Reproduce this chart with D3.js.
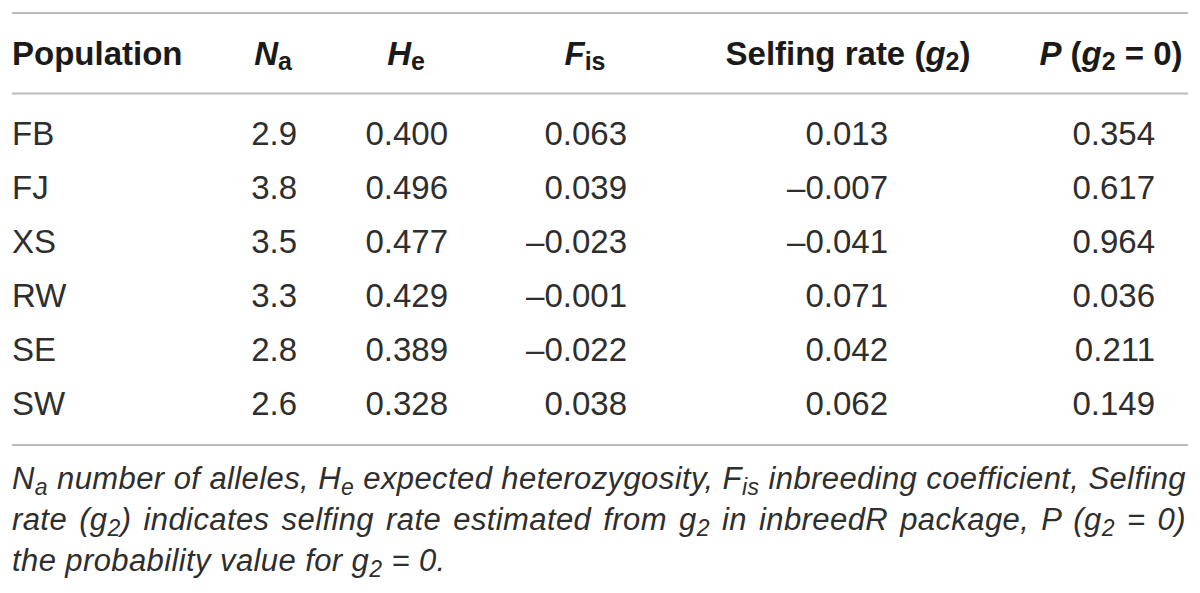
<!DOCTYPE html>
<html>
<head>
<meta charset="utf-8">
<script src="https://cdn.jsdelivr.net/npm/d3@7"></script>
<style>
  html, body { margin: 0; padding: 0; background: #fff; }
  svg { display: block; font-family: "Liberation Sans", Arial, sans-serif; }
</style>
</head>
<body>
<div id="table"></div>
<script>
// Population genetics summary table

// Data
const populations = ['FB', 'FJ', 'XS', 'RW', 'SE', 'SW'];
const naValues = [2.9, 3.8, 3.5, 3.3, 2.8, 2.6];
const heValues = [0.400, 0.496, 0.477, 0.429, 0.389, 0.328];
const fisValues = [0.063, 0.039, -0.023, -0.001, -0.022, 0.038];
const selfingValues = [0.013, -0.007, -0.041, 0.071, 0.042, 0.062];
const pValues = [0.354, 0.617, 0.964, 0.036, 0.211, 0.149];

const columnKeys = ['pop', 'na', 'he', 'fis', 'selfing', 'p'];

// header pieces: i = italic, s = subscript
const headers = {
    pop: [{ t: 'Population' }],
    na: [{ t: 'N', i: true }, { t: 'a', s: true }],
    he: [{ t: 'H', i: true }, { t: 'e', s: true }],
    fis: [{ t: 'F', i: true }, { t: 'is', s: true }],
    selfing: [{ t: 'Selfing rate (' }, { t: 'g', i: true }, { t: '2', s: true }, { t: ')' }],
    p: [{ t: 'P', i: true }, { t: ' (' }, { t: 'g', i: true }, { t: '2', s: true }, { t: ' = 0)' }]
};

const captionLines = [
    [{ t: 'N' }, { t: 'a', s: true }, { t: ' number of alleles, H' }, { t: 'e', s: true },
     { t: ' expected heterozygosity, F' }, { t: 'is', s: true }, { t: ' inbreeding coefficient, Selfing' }],
    [{ t: 'rate (g' }, { t: '2', s: true }, { t: ') indicates selfing rate estimated from g' }, { t: '2', s: true },
     { t: ' in inbreedR package, P (g' }, { t: '2', s: true }, { t: ' = 0)' }],
    [{ t: 'the probability value for g' }, { t: '2', s: true }, { t: ' = 0.' }]
];

// Layout
const width = 1200;
const height = 593;
const left = 12;
const right = 1188;

const svg = d3.select('#table')
    .append('svg')
    .attr('width', width)
    .attr('height', height);

svg.append('rect')
    .attr('width', width)
    .attr('height', height)
    .attr('fill', '#fff');

// Row baselines
const yRow = d3.scalePoint()
    .domain(populations)
    .range([145, 415]);

// Column anchors: values right edge and header centre
const xValueRight = d3.scaleOrdinal()
    .domain(columnKeys)
    .range([left, 297, 448, 627, 888, 1155]);

const xHeader = d3.scaleOrdinal()
    .domain(columnKeys)
    .range([left, 273, 406, 585, 848, 1111]);

// Rules
const rules = [13, 93.5, 445];
svg.selectAll('.rule')
    .data(rules)
    .enter()
    .append('line')
    .attr('class', 'rule')
    .attr('x1', left)
    .attr('x2', right)
    .attr('y1', d => d)
    .attr('y2', d => d)
    .attr('stroke', '#bcbcbc')
    .attr('stroke-width', 2);

// Helper to write pieces with subscripts into a text element
function writePieces(text, pieces, subSize, subDy, allItalic) {
    pieces.forEach((p, i) => {
        const prevSub = i > 0 && pieces[i - 1].s;
        const span = text.append('tspan').text(p.t);
        let dy = 0;
        if (p.s && !prevSub) dy = subDy;
        if (!p.s && prevSub) dy = -subDy;
        if (dy) span.attr('dy', dy);
        if (p.s) span.style('font-size', subSize + 'px');
        if (p.i || allItalic) span.style('font-style', 'italic');
    });
}

// Header row
columnKeys.forEach(key => {
    const t = svg.append('text')
        .attr('class', 'header')
        .attr('x', xHeader(key))
        .attr('y', 65)
        .attr('text-anchor', key === 'pop' ? 'start' : 'middle')
        .style('font-size', '33px')
        .style('font-weight', 'bold')
        .attr('fill', '#1a1a1a')
        .attr('xml:space', 'preserve');
    writePieces(t, headers[key], 25, 5, false);
});

// Body cells
const fmt1 = d3.format('.1f');
const fmt3 = d3.format('.3f');

const rows = populations.map((pop, i) => ({
    pop: pop,
    na: fmt1(naValues[i]),
    he: fmt3(heValues[i]),
    fis: fmt3(fisValues[i]).replace('\u2212', '\u2013'),
    selfing: fmt3(selfingValues[i]).replace('\u2212', '\u2013'),
    p: fmt3(pValues[i])
}));

const rowG = svg.selectAll('.row')
    .data(rows)
    .enter()
    .append('g')
    .attr('class', 'row');

columnKeys.forEach(key => {
    rowG.append('text')
        .attr('x', xValueRight(key))
        .attr('y', d => yRow(d.pop))
        .attr('text-anchor', key === 'pop' ? 'start' : 'end')
        .style('font-size', '33px')
        .attr('fill', '#2e2e2e')
        .text(d => d[key]);
});

// Caption, justified on the first two lines
const captionY = [489, 530, 571];
captionLines.forEach((pieces, li) => {
    const t = svg.append('text')
        .attr('class', 'caption')
        .attr('x', left)
        .attr('y', captionY[li])
        .style('font-size', '31px')
        .style('font-style', 'italic')
        .style('letter-spacing', '0.4px')
        .attr('fill', '#2e2e2e')
        .attr('xml:space', 'preserve');
    writePieces(t, pieces, 23, 6, true);
    if (li < captionLines.length - 1) {
        const natural = t.node().getComputedTextLength();
        const spaces = pieces.map(p => p.t).join('').split(' ').length - 1;
        t.attr('word-spacing', (right - 2 - left - natural) / spaces);
    }
});
</script>
</body>
</html>
